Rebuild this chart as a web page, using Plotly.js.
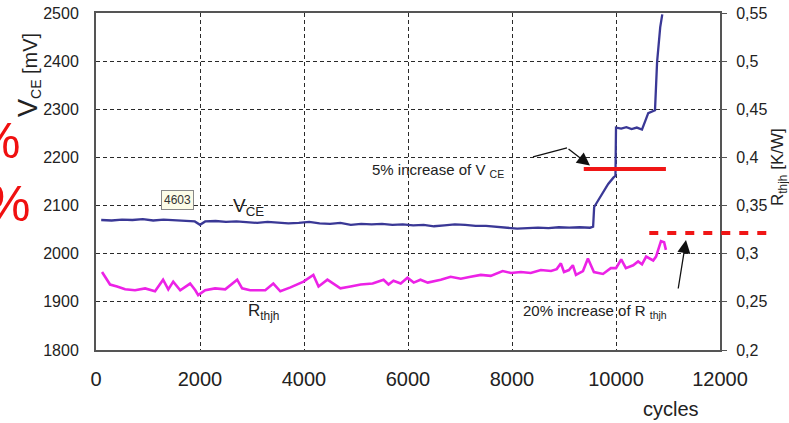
<!DOCTYPE html>
<html>
<head>
<meta charset="utf-8">
<script src="https://cdn.plot.ly/plotly-3.0.1.min.js"></script>
<style>html,body{margin:0;padding:0;background:#fff;overflow:hidden}#chart{width:789px;height:423px}</style>
</head>
<body>
<div id="chart"></div>
<script>
// ---- data ----
const cycleTicks = [0, 2000, 4000, 6000, 8000, 10000, 12000];
const cycleTickText = ['0', '2000', '4000', '6000', '8000', '10000', '12000'];
const vceTicks = [1800, 1900, 2000, 2100, 2200, 2300, 2400, 2500];
const vceTickText = ['1800', '1900', '2000', '2100', '2200', '2300', '2400', '2500'];
const rTicks = [0.2, 0.25, 0.3, 0.35, 0.4, 0.45, 0.5, 0.55];
const rTickText = ['0,2', '0,25', '0,3', '0,35', '0,4', '0,45', '0,5', '0,55'];

const vceCycles = [100, 300, 500, 700, 900, 1100, 1300, 1500, 1700, 1900, 2000, 2100, 2300, 2500, 2700, 2900,
  3100, 3300, 3500, 3700, 3900, 4100, 4300, 4500, 4700, 4900, 5100, 5300, 5500, 5700, 5900, 6100, 6300, 6500,
  6700, 6900, 7100, 7300, 7500, 7700, 7900, 8100, 8300, 8500, 8700, 8900, 9100, 9300, 9500, 9560, 9580, 9700,
  9850, 9950, 9990, 10000, 10100, 10200, 10300, 10400, 10500, 10560, 10620, 10750, 10790, 10850, 10890];
const vceValues = [2070, 2069, 2071, 2070, 2072, 2069, 2071, 2070, 2069, 2067, 2060, 2067, 2068, 2066, 2067, 2065,
  2064, 2066, 2064, 2063, 2064, 2066, 2063, 2062, 2064, 2060, 2062, 2061, 2062, 2060, 2061, 2059, 2060, 2057,
  2059, 2061, 2060, 2058, 2058, 2056, 2053, 2052, 2053, 2054, 2053, 2055, 2054, 2055, 2054, 2056, 2097, 2118,
  2145, 2158, 2162, 2262, 2260, 2263, 2259, 2262, 2258, 2275, 2292, 2298, 2398, 2470, 2497];

const rCycles = [116, 193, 270, 405, 560, 750, 945, 1135, 1290, 1390, 1485, 1620, 1810, 1910, 1965, 2100, 2290,
  2485, 2715, 2810, 2965, 3100, 3255, 3410, 3545, 3740, 3990, 4180, 4280, 4450, 4700, 4895, 5090, 5320, 5530,
  5625, 5720, 5860, 5990, 6110, 6240, 6380, 6490, 6630, 6820, 7015, 7205, 7400, 7590, 7820, 7980, 8170, 8360,
  8555, 8750, 8860, 8940, 9000, 9095, 9170, 9230, 9365, 9460, 9575, 9750, 9900, 10000, 10100, 10190, 10330,
  10425, 10500, 10580, 10715, 10770, 10865, 10925, 10960];
const rValues = [0.281, 0.275, 0.268, 0.266, 0.263, 0.262, 0.264, 0.261, 0.273, 0.263, 0.271, 0.262, 0.269, 0.262,
  0.257, 0.262, 0.264, 0.263, 0.273, 0.264, 0.262, 0.262, 0.262, 0.269, 0.261, 0.265, 0.271, 0.278, 0.266, 0.273,
  0.264, 0.266, 0.268, 0.269, 0.273, 0.268, 0.272, 0.269, 0.275, 0.270, 0.273, 0.270, 0.271, 0.273, 0.276, 0.274,
  0.276, 0.278, 0.277, 0.282, 0.280, 0.281, 0.280, 0.283, 0.282, 0.284, 0.290, 0.281, 0.283, 0.288, 0.278, 0.282,
  0.295, 0.281, 0.279, 0.285, 0.285, 0.294, 0.285, 0.288, 0.292, 0.289, 0.297, 0.293, 0.297, 0.313, 0.312, 0.304];

const vceLimitCycles = [9380, 10960];
const vceLimitValues = [2176, 2176];
const rLimitCycles = [10640, 12930];
const rLimitValue = 0.3215;

const xRange = [0, 12000];
const vceRange = [1800, 2500];
const rRange = [0.2, 0.55];

// ---- chart ----
const FONT = 'Liberation Sans, Arial, sans-serif';
const TXT = '#222';

const traces = [
  {x: vceCycles, y: vceValues, type: 'scatter', mode: 'lines', yaxis: 'y',
   line: {color: '#3a3896', width: 2.3}},
  {x: rCycles, y: rValues, type: 'scatter', mode: 'lines', yaxis: 'y2',
   line: {color: '#ec22e6', width: 2.6}},
  {x: vceLimitCycles, y: vceLimitValues, type: 'scatter', mode: 'lines', yaxis: 'y',
   line: {color: '#f01616', width: 4}}
];

const px = c => (c - xRange[0]) / (xRange[1] - xRange[0]);
const py2 = r => (r - rRange[0]) / (rRange[1] - rRange[0]);

// helper to place free text by pixel position (center)
const L = 96, T = 13, W = 624, H = 337;
function txt(cx, cy, text, font, extra) {
  return Object.assign({xref: 'paper', yref: 'paper', x: (cx - L) / W, y: (T + H - cy) / H,
    xanchor: 'center', yanchor: 'middle', showarrow: false, text: text, font: font}, extra || {});
}

const layout = {
  width: 789, height: 423,
  margin: {l: 96, r: 69, t: 13, b: 73, pad: 0},
  paper_bgcolor: '#fff', plot_bgcolor: '#fff',
  showlegend: false,
  font: {family: FONT, color: TXT},
  xaxis: {
    range: xRange, tickmode: 'array', tickvals: cycleTicks, ticktext: cycleTickText,
    showline: true, linecolor: '#555', linewidth: 2, mirror: true,
    showgrid: true, gridcolor: '#2a2a2a', gridwidth: 1, griddash: '4px,3px',
    zeroline: false, ticks: '', tickfont: {size: 20, family: FONT, color: TXT},
    ticklabelstandoff: 10
  },
  yaxis: {
    range: vceRange, tickmode: 'array', tickvals: vceTicks, ticktext: vceTickText,
    showline: true, linecolor: '#555', linewidth: 2,
    showgrid: true, gridcolor: '#2a2a2a', gridwidth: 1, griddash: '4px,3px',
    zeroline: false, ticks: '', tickfont: {size: 16, family: FONT, color: TXT},
    ticklabelstandoff: 12
  },
  yaxis2: {
    range: rRange, overlaying: 'y', side: 'right', tickmode: 'array', tickvals: rTicks, ticktext: rTickText,
    showline: true, linecolor: '#555', linewidth: 2, showgrid: false, zeroline: false,
    ticks: 'outside', ticklen: 5, tickcolor: '#555', tickfont: {size: 16, family: FONT, color: TXT},
    ticklabelstandoff: 6
  },
  shapes: [
    {type: 'line', xref: 'paper', yref: 'paper',
     x0: px(rLimitCycles[0]), x1: px(rLimitCycles[1]), y0: py2(rLimitValue), y1: py2(rLimitValue),
     line: {color: '#f01616', width: 4, dash: '9px,9px'}},
    {type: 'line', xref: 'x', yref: 'y', x0: 8404, y0: 2201, x1: 9058, y1: 2220,
     line: {color: '#111', width: 1.3}}
  ],
  annotations: [
    {xref: 'x', yref: 'y', x: 9500, y: 2183, axref: 'x', ayref: 'y', ax: 9058, ay: 2220,
     showarrow: true, arrowhead: 2, arrowsize: 2, arrowwidth: 1.3, arrowcolor: '#111', text: ''},
    {xref: 'x', yref: 'y2', x: 11346, y: 0.3142, axref: 'x', ayref: 'y2', ax: 11192, ay: 0.2623,
     showarrow: true, arrowhead: 2, arrowsize: 2, arrowwidth: 1.3, arrowcolor: '#111', text: ''},
    txt(438, 170, '5% increase of V&nbsp;<sub>CE</sub>', {size: 15, family: FONT, color: TXT}),
    txt(595, 311, '20% increase of R&nbsp;<sub>thjh</sub>', {size: 15, family: FONT, color: TXT}),
    txt(248, 207, 'V<sub>CE</sub>', {size: 19, family: FONT, color: TXT}),
    txt(263, 312, 'R<sub>thjh</sub>', {size: 17, family: FONT, color: TXT}),
    txt(177, 200, '4603', {size: 12, family: FONT, color: '#333'},
        {bgcolor: '#fcfce8', bordercolor: '#888', borderwidth: 1, borderpad: 2}),
    txt(671, 409, 'cycles', {size: 20, family: FONT, color: TXT}),
    txt(28, 75, '<span style="font-size:27px">V</span><sub>CE</sub> [mV]', {size: 20, family: FONT, color: TXT},
        {textangle: -90}),
    txt(779, 167, 'R<sub>thjh</sub> [K/W]', {size: 17, family: FONT, color: TXT}, {textangle: -90}),
    txt(-2, 141, '%', {size: 50, family: FONT, color: '#f01010'}),
    txt(8, 204, '%', {size: 50, family: FONT, color: '#f01010'})
  ]
};

Plotly.newPlot('chart', traces, layout, {staticPlot: true, displayModeBar: false});
</script>
</body>
</html>
